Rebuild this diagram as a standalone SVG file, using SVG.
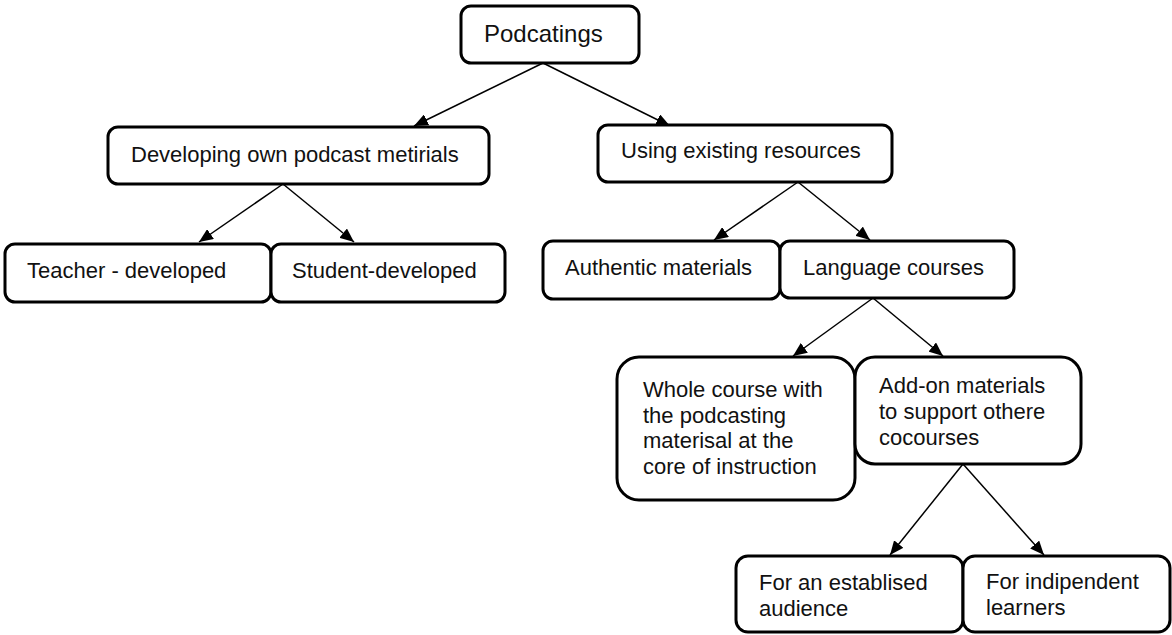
<svg xmlns="http://www.w3.org/2000/svg" width="1172" height="635" viewBox="0 0 1172 635">
<style>
.box{fill:#fff;stroke:#000;stroke-width:3}
.t{font-family:"Liberation Sans",Arial,sans-serif;font-size:22px;fill:#111}
.big{font-size:24px}
.c{stroke:#000;stroke-width:1.5;fill:none;marker-end:url(#ah)}
</style>
<defs>
<marker id="ah" viewBox="0 0 14 12" refX="14" refY="6" markerWidth="14" markerHeight="12" markerUnits="userSpaceOnUse" orient="auto">
<path d="M0,0 L14,6 L0,12 z" fill="#000"/>
</marker>
</defs>
<rect width="1172" height="635" fill="#fff"/>
<g id="connectors">
<line class="c" x1="543" y1="63" x2="414" y2="126"/>
<line class="c" x1="543" y1="63" x2="670" y2="126"/>
<line class="c" x1="283" y1="184" x2="199" y2="242"/>
<line class="c" x1="283" y1="184" x2="354" y2="242"/>
<line class="c" x1="798" y1="182" x2="714" y2="240"/>
<line class="c" x1="798" y1="182" x2="870" y2="240"/>
<line class="c" x1="873" y1="298" x2="793" y2="356"/>
<line class="c" x1="873" y1="298" x2="943" y2="356"/>
<line class="c" x1="963" y1="464" x2="890" y2="555"/>
<line class="c" x1="963" y1="464" x2="1044" y2="555"/>
</g>
<g id="podcatings">
<rect class="box" x="461" y="6" width="178" height="57" rx="10"/>
<text class="t big" x="484" y="42">Podcatings</text>
</g>
<g id="developing">
<rect class="box" x="108" y="127" width="381" height="57" rx="10"/>
<text class="t" x="131" y="162">Developing own podcast metirials</text>
</g>
<g id="using">
<rect class="box" x="598" y="125" width="294" height="57" rx="10"/>
<text class="t" x="621" y="158">Using existing resources</text>
</g>
<g id="teacher">
<rect class="box" x="5" y="244" width="266" height="58" rx="10"/>
<text class="t" x="27" y="278">Teacher - developed</text>
</g>
<g id="student">
<rect class="box" x="271" y="244" width="234" height="58" rx="10"/>
<text class="t" x="292" y="278">Student-developed</text>
</g>
<g id="authentic">
<rect class="box" x="543" y="241" width="237" height="58" rx="10"/>
<text class="t" x="565" y="275">Authentic materials</text>
</g>
<g id="language">
<rect class="box" x="780" y="241" width="234" height="57" rx="10"/>
<text class="t" x="803" y="275">Language courses</text>
</g>
<g id="whole">
<rect class="box" x="617" y="357" width="238" height="143" rx="22"/>
<text class="t" x="643" y="397">Whole course with<tspan x="643" dy="25.7">the podcasting</tspan><tspan x="643" dy="25.7">materisal at the</tspan><tspan x="643" dy="25.7">core of instruction</tspan></text>
</g>
<g id="addon">
<rect class="box" x="855" y="357" width="226" height="107" rx="20"/>
<text class="t" x="879" y="393">Add-on materials<tspan x="879" dy="26">to support othere</tspan><tspan x="879" dy="26">cocourses</tspan></text>
</g>
<g id="established">
<rect class="box" x="736" y="556" width="227" height="76" rx="12"/>
<text class="t" x="759" y="590">For an establised<tspan x="759" dy="25.5">audience</tspan></text>
</g>
<g id="indipendent">
<rect class="box" x="963" y="556" width="207" height="76" rx="12"/>
<text class="t" x="986" y="589">For indipendent<tspan x="986" dy="26">learners</tspan></text>
</g>
</svg>
